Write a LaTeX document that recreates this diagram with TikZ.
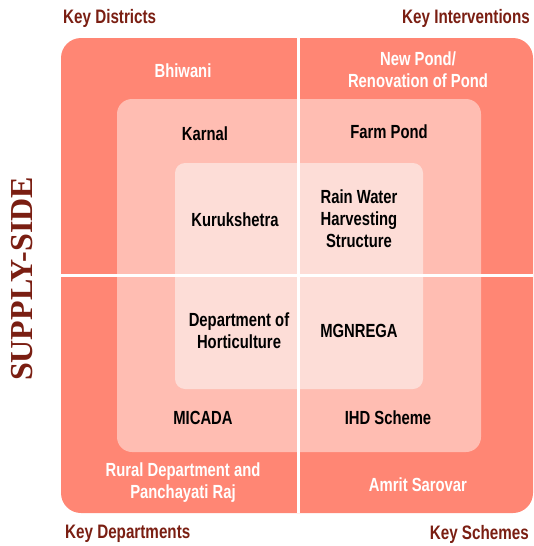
\documentclass[tikz,border=0pt]{standalone}
\usepackage{fontspec}
\setmainfont{Liberation Sans}
\newfontfamily\condfont[FakeStretch=0.78]{Liberation Sans}
\newfontfamily\serifbold{Liberation Serif}
\usetikzlibrary{positioning}

\definecolor{outerfill}{HTML}{FF8674}
\definecolor{middlefill}{HTML}{FFBDB2}
\definecolor{innerfill}{HTML}{FDDDD7}
\definecolor{keyred}{HTML}{7A1E12}

\begin{document}
\begin{tikzpicture}[
    x=1pt, y=-1pt,
    every node/.style={
        align=center,
        inner sep=0pt,
        font=\condfont\bfseries\fontsize{19}{22}\selectfont
    },
    outerlabel/.style={text=white},
    innerlabel/.style={text=black},
    keylabel/.style={text=keyred, font=\condfont\bfseries\fontsize{19.5}{22}\selectfont},
    divider/.style={white, line width=3pt}
]

\useasboundingbox (0,0) rectangle (534,546);

% nested squares
\fill[outerfill, rounded corners=20pt] (61,38) rectangle (533,513);
\fill[middlefill, rounded corners=15pt] (117,99) rectangle (481,452);
\fill[innerfill, rounded corners=10pt] (175,163) rectangle (423,389);

% quadrant lines
\draw[divider] (298,38) -- (298,513);
\draw[divider] (61,275) -- (533,275);

% corner captions
\node[keylabel, anchor=west] (districts) at (63,18) {Key Districts};
\node[keylabel, anchor=east] (interventions) at (530,18) {Key Interventions};
\node[keylabel, anchor=west] (departments) at (65,534) {Key Departments};
\node[keylabel, anchor=east] (schemes) at (529,534) {Key Schemes};

\node[text=keyred, rotate=90, font=\serifbold\bfseries\fontsize{32}{36}\selectfont]
    (supply) at (22,279) {SUPPLY-SIDE};

% outer ring
\node[outerlabel] (bhiwani) at (183,71) {Bhiwani};
\node[outerlabel] (newpond) at (418,70) {New Pond/\\Renovation of Pond};
\node[outerlabel] (rural) at (183,483) {Rural Department and\\Panchayati Raj};
\node[outerlabel] (amrit) at (418,485) {Amrit Sarovar};

% middle ring
\node[innerlabel] (karnal) at (205,134) {Karnal};
\node[innerlabel] (farmpond) at (389,132) {Farm Pond};
\node[innerlabel] (micada) at (203,418) {MICADA};
\node[innerlabel] (ihd) at (388,418) {IHD Scheme};

% inner square
\node[innerlabel] (kurukshetra) at (235,220) {Kurukshetra};
\node[innerlabel] (rainwater) at (359,219) {Rain Water\\Harvesting\\Structure};
\node[innerlabel] (horti) at (239,331) {Department of\\Horticulture};
\node[innerlabel] (mgnrega) at (359,331) {MGNREGA};

\end{tikzpicture}
\end{document}
